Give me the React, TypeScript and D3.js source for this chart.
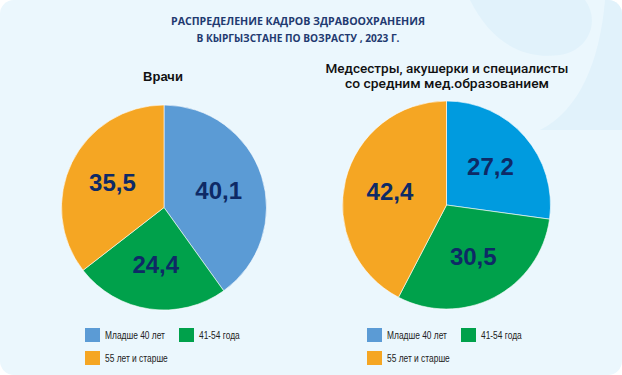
import React from "react";
import * as d3 from "d3";

const categories = ["Младше 40 лет", "41-54 года", "55 лет и старше"];
const doctorsValues = [40.1, 24.4, 35.5];
const nursesValues = [27.2, 30.5, 42.4];
const titleLines = ["РАСПРЕДЕЛЕНИЕ КАДРОВ ЗДРАВООХРАНЕНИЯ", "В КЫРГЫЗСТАНЕ ПО ВОЗРАСТУ , 2023 Г."];
const doctorsTitle = ["Врачи"];
const nursesTitle = ["Медсестры, акушерки и специалисты", "со средним мед.образованием"];

const W = 622;
const H = 375;
const leftColors = ["#5B9BD5", "#00A14B", "#F5A623"];
const rightColors = ["#009BDF", "#00A14B", "#F5A623"];
const legendColors = ["#5B9BD5", "#00A14B", "#F5A623"];
const labelColor = "#0E2A66";

function Pie({ values, colors, cx, cy, r }: { values: number[]; colors: string[]; cx: number; cy: number; r: number }) {
  const pie = d3.pie<number>().sort(null).value((d) => d);
  const arcs = pie(values);
  const arc = d3.arc<d3.PieArcDatum<number>>().innerRadius(0).outerRadius(r);
  const labelArc = d3.arc<d3.PieArcDatum<number>>().innerRadius(r * 0.56).outerRadius(r * 0.56);
  const fmt = (v: number) => v.toFixed(1).replace(".", ",");
  return (
    <g transform={`translate(${cx},${cy})`}>
      {arcs.map((a, i) => (
        <path key={i} d={arc(a) || ""} fill={colors[i]} stroke="#ffffff" strokeWidth={0.6} />
      ))}
      {arcs.map((a, i) => {
        const [x, y] = labelArc.centroid(a);
        return (
          <text key={i} x={x} y={y} dy="0.36em" textAnchor="middle" fontFamily="Liberation Sans, Arial, sans-serif" fontWeight="bold" fontSize={24} fill={labelColor}>
            {fmt(a.data)}
          </text>
        );
      })}
    </g>
  );
}

function Legend({ x, y, col2 }: { x: number; y: number; col2: number }) {
  const pos = [
    [x, y],
    [x + col2, y],
    [x, y + 23],
  ];
  return (
    <g>
      {categories.map((c, i) => (
        <g key={c} transform={`translate(${pos[i][0]},${pos[i][1]})`}>
          <rect x={0} y={0} width={15} height={14} fill={legendColors[i]} />
          <g transform="translate(20,7) scale(0.84,1)">
            <text x={0} y={0} dy="0.35em" fontFamily="Liberation Sans, Arial, sans-serif" fontSize={10} fill="#222">
              {c}
            </text>
          </g>
        </g>
      ))}
    </g>
  );
}

export default function App() {
  return (
    <svg width={W} height={H} style={{ position: "absolute", left: 0, top: 0 }}>
      <defs>
        <clipPath id="bgclip">
          <rect x={0} y={0} width={W} height={H} rx={14} />
        </clipPath>
      </defs>
      <g clipPath="url(#bgclip)">
        <rect x={0} y={0} width={W} height={H} fill="#EBF7FD" />
        <path d="M470,0 C490,40 520,60 560,55 C590,50 600,20 585,0 Z" fill="#E1F2FB" />
        <path d="M605,0 C600,60 580,110 540,130 L622,130 L622,0 Z" fill="#E1F2FB" />
      </g>
      {titleLines.map((t, i) => (
        <text key={i} x={298} y={21 + i * 17} dy="0.35em" textAnchor="middle" fontFamily="Open Sans, sans-serif" fontWeight="bold" fontSize={11} fill="#1F3A70" textLength={i === 0 ? 254 : 203} lengthAdjust="spacingAndGlyphs">
          {t}
        </text>
      ))}
      {doctorsTitle.map((t, i) => (
        <text key={i} x={163} y={76} dy="0.35em" textAnchor="middle" fontFamily="Liberation Sans, Arial, sans-serif" fontWeight="bold" fontSize={13} fill="#111">
          {t}
        </text>
      ))}
      {nursesTitle.map((t, i) => (
        <text key={i} x={447} y={68.5 + i * 15} dy="0.35em" textAnchor="middle" fontFamily="Roboto, sans-serif" fontWeight={500} fontSize={12.5} fill="#111" textLength={i === 0 ? 243 : 204} lengthAdjust="spacingAndGlyphs">
          {t}
        </text>
      ))}
      <Pie values={doctorsValues} colors={leftColors} cx={164} cy={207.5} r={102.5} />
      <Pie values={nursesValues} colors={rightColors} cx={446.5} cy={205} r={104} />
      <Legend x={85} y={328} col2={94} />
      <Legend x={367} y={328} col2={94} />
    </svg>
  );
}
